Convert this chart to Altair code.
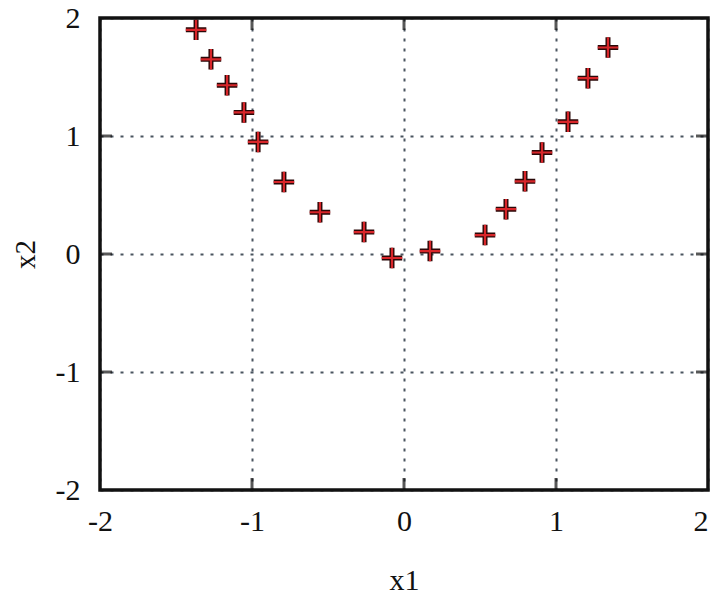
import altair as alt
import pandas as pd

x1 = [-1.368, -1.27, -1.164, -1.053, -0.96, -0.79, -0.553, -0.263, -0.079, 0.171,
      0.533, 0.671, 0.796, 0.908, 1.079, 1.21, 1.342]
x2 = [1.90, 1.65, 1.43, 1.20, 0.95, 0.61, 0.354, 0.186, -0.034, 0.025,
      0.16, 0.38, 0.616, 0.86, 1.12, 1.49, 1.75]
tick_values = [-2, -1, 0, 1, 2]
inner_ticks = [-1, 0, 1]
frame_lo = [-2]
frame_hi = [2]

df = pd.DataFrame({"x1": x1, "x2": x2})
ticks_df = pd.DataFrame({"v": inner_ticks, "lo": frame_lo * 3, "hi": frame_hi * 3})
frame_df = pd.DataFrame({"lo": frame_lo, "hi": frame_hi})

FONT = "Liberation Serif"
xs = alt.Scale(domain=[-2, 2], nice=False, zero=False)
ys = alt.Scale(domain=[-2, 2], nice=False, zero=False)

plus = "M-1,0H1M0,-1V1"
lab = "datum.value < 0 ? '-' + abs(datum.value) : '' + datum.value"

xaxis = alt.Axis(values=tick_values, grid=True, gridDash=[3, 7], gridColor="#4a5560",
                 gridWidth=2, gridOpacity=1, domain=False, ticks=False, tickSize=0,
                 labelExpr=lab,
                 labelAlign={"condition": {"test": "datum.value == 2", "value": "right"},
                             "value": "center"},
                 labelFont=FONT, labelFontSize=30, labelColor="#111", labelPadding=16,
                 title="x1", titleFont=FONT, titleFontSize=30, titleFontWeight="normal",
                 titleColor="#111", titlePadding=29, labelFlush=False)
yaxis = alt.Axis(values=tick_values, grid=True, gridDash=[3, 7], gridColor="#4a5560",
                 gridWidth=2, gridOpacity=1, domain=False, ticks=False, tickSize=0,
                 labelExpr=lab,
                 labelFont=FONT, labelFontSize=30, labelColor="#111", labelPadding=20,
                 title="x2", titleFont=FONT, titleFontSize=29, titleFontWeight="normal",
                 titleColor="#111", titlePadding=15, labelFlush=False)

base = alt.Chart(df)
outline = base.mark_point(shape=plus, size=420, filled=False, stroke="#2a0808",
                          strokeWidth=5, opacity=1).encode(
    x=alt.X("x1:Q", scale=xs, axis=xaxis),
    y=alt.Y("x2:Q", scale=ys, axis=yaxis),
)
inner = base.mark_point(shape=plus, size=420, filled=False, stroke="#d8262a",
                        strokeWidth=2.2, opacity=1).encode(
    x=alt.X("x1:Q", scale=xs),
    y=alt.Y("x2:Q", scale=ys),
)

tb = alt.Chart(ticks_df)
bottom_t = tb.mark_tick(orient="vertical", size=12, thickness=3, color="#111", yOffset=-6).encode(
    x=alt.X("v:Q", scale=xs), y=alt.Y("lo:Q", scale=ys))
top_t = tb.mark_tick(orient="vertical", size=12, thickness=3, color="#111", yOffset=6).encode(
    x=alt.X("v:Q", scale=xs), y=alt.Y("hi:Q", scale=ys))
left_t = tb.mark_tick(orient="horizontal", size=12, thickness=3, color="#111", xOffset=6).encode(
    y=alt.Y("v:Q", scale=ys), x=alt.X("lo:Q", scale=xs))
right_t = tb.mark_tick(orient="horizontal", size=12, thickness=3, color="#111", xOffset=-6).encode(
    y=alt.Y("v:Q", scale=ys), x=alt.X("hi:Q", scale=xs))

frame = alt.Chart(frame_df).mark_rect(filled=False, stroke="#111", strokeWidth=3.5).encode(
    x=alt.X("lo:Q", scale=xs), x2="hi:Q", y=alt.Y("lo:Q", scale=ys), y2="hi:Q")

chart = alt.layer(outline, inner, bottom_t, top_t, left_t, right_t, frame).properties(
    width=608, height=472,
    autosize=alt.AutoSizeParams(type="none"),
    padding={"left": 92, "top": 10, "right": 4, "bottom": 108},
).configure_view(stroke=None).configure(background="white")

chart.save("out.html", embed_options={"renderer": "svg", "actions": False})
